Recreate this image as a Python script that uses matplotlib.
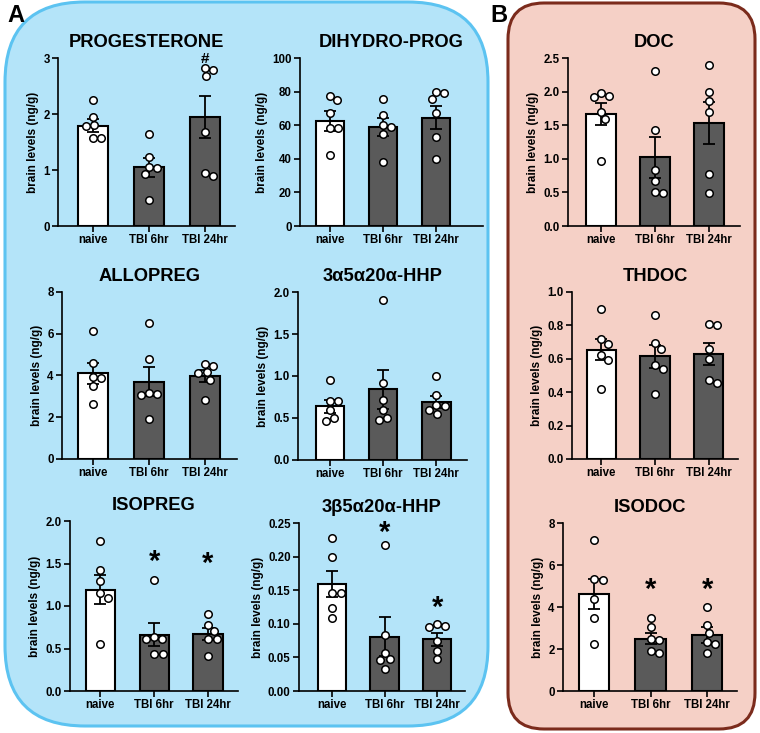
import numpy as np
import matplotlib
matplotlib.use("Agg")
import matplotlib.pyplot as plt
from matplotlib.patches import FancyBboxPatch
from matplotlib.transforms import IdentityTransform

plt.rcParams['font.family'] = ['Liberation Sans', 'DejaVu Sans']
plt.rcParams['font.weight'] = 'bold'
plt.rcParams['axes.labelweight'] = 'bold'

# ---------------- data ----------------
groups = ["naive", "TBI 6hr", "TBI 24hr"]
ylabel = "brain levels (ng/g)"

prog_title = "PROGESTERONE"
prog_mean = [1.79, 1.05, 1.95]
prog_sem = [0.12, 0.17, 0.38]
prog_pts = [[2.25, 1.95, 1.80, 1.78, 1.57, 1.57],
            [1.64, 1.24, 1.06, 1.03, 0.93, 0.46],
            [2.82, 2.79, 2.67, 1.67, 0.95, 0.89]]
prog_ticks = [0, 1, 2, 3]
prog_sig = ["", "", "#"]
prog_sig_y = [None, None, 2.99]

dhp_title = "DIHYDRO-PROG"
dhp_mean = [62.7, 58.8, 64.5]
dhp_sem = [6.0, 5.4, 7.0]
dhp_pts = [[77.5, 75.0, 67.0, 58.5, 58.5, 42.2],
           [75.5, 66.0, 60.0, 59.0, 54.6, 37.8],
           [80.0, 79.0, 75.7, 67.0, 52.8, 39.6]]
dhp_ticks = [0, 20, 40, 60, 80, 100]
dhp_sig = ["", "", ""]
dhp_sig_y = [None, None, None]

doc_title = "DOC"
doc_mean = [1.67, 1.02, 1.53]
doc_sem = [0.16, 0.30, 0.31]
doc_pts = [[1.98, 1.93, 1.92, 1.70, 1.59, 0.96],
           [2.30, 1.43, 0.83, 0.67, 0.50, 0.49],
           [2.39, 1.99, 1.86, 1.70, 0.77, 0.49]]
doc_ticks = [0.0, 0.5, 1.0, 1.5, 2.0, 2.5]
doc_sig = ["", "", ""]
doc_sig_y = [None, None, None]

allo_title = "ALLOPREG"
allo_mean = [4.10, 3.70, 3.98]
allo_sem = [0.50, 0.70, 0.27]
allo_pts = [[6.14, 4.60, 3.94, 3.90, 3.49, 2.63],
            [6.52, 4.77, 3.14, 3.09, 3.06, 1.91],
            [4.57, 4.46, 4.17, 4.10, 3.80, 2.82]]
allo_ticks = [0, 2, 4, 6, 8]
allo_sig = ["", "", ""]
allo_sig_y = [None, None, None]

hhp_a_title = "3α5α20α-HHP"
hhp_a_mean = [0.64, 0.84, 0.69]
hhp_a_sem = [0.08, 0.23, 0.07]
hhp_a_pts = [[0.95, 0.70, 0.70, 0.59, 0.50, 0.46],
             [1.90, 0.92, 0.71, 0.59, 0.50, 0.48],
             [1.00, 0.77, 0.65, 0.64, 0.59, 0.55]]
hhp_a_ticks = [0.0, 0.5, 1.0, 1.5, 2.0]
hhp_a_sig = ["", "", ""]
hhp_a_sig_y = [None, None, None]

thdoc_title = "THDOC"
thdoc_mean = [0.655, 0.615, 0.63]
thdoc_sem = [0.065, 0.07, 0.065]
thdoc_pts = [[0.90, 0.72, 0.69, 0.62, 0.59, 0.42],
             [0.865, 0.695, 0.66, 0.56, 0.54, 0.39],
             [0.81, 0.80, 0.66, 0.60, 0.476, 0.456]]
thdoc_ticks = [0.0, 0.2, 0.4, 0.6, 0.8, 1.0]
thdoc_sig = ["", "", ""]
thdoc_sig_y = [None, None, None]

iso_title = "ISOPREG"
iso_mean = [1.19, 0.66, 0.67]
iso_sem = [0.17, 0.135, 0.075]
iso_pts = [[1.77, 1.42, 1.29, 1.15, 1.10, 0.55],
           [1.31, 0.64, 0.61, 0.61, 0.43, 0.43],
           [0.91, 0.78, 0.71, 0.61, 0.61, 0.41]]
iso_ticks = [0.0, 0.5, 1.0, 1.5, 2.0]
iso_sig = ["", "*", "*"]
iso_sig_y = [None, 1.52, 1.50]

hhp_b_title = "3β5α20α-HHP"
hhp_b_mean = [0.159, 0.081, 0.077]
hhp_b_sem = [0.019, 0.029, 0.010]
hhp_b_pts = [[0.2275, 0.200, 0.146, 0.146, 0.124, 0.108],
             [0.218, 0.084, 0.057, 0.047, 0.046, 0.032],
             [0.100, 0.096, 0.095, 0.074, 0.060, 0.047]]
hhp_b_ticks = [0.00, 0.05, 0.10, 0.15, 0.20, 0.25]
hhp_b_sig = ["", "*", "*"]
hhp_b_sig_y = [None, 0.235, 0.123]

isodoc_title = "ISODOC"
isodoc_mean = [4.62, 2.50, 2.66]
isodoc_sem = [0.70, 0.27, 0.37]
isodoc_pts = [[7.20, 5.34, 5.29, 4.38, 3.49, 2.22],
              [3.49, 3.06, 2.50, 2.42, 1.90, 1.83],
              [3.98, 3.16, 2.77, 2.34, 2.22, 1.82]]
isodoc_ticks = [0, 2, 4, 6, 8]
isodoc_sig = ["", "*", "*"]
isodoc_sig_y = [None, 4.8, 4.8]

# ---------------- layout ----------------
W, H = 760, 733
fig = plt.figure(figsize=(W / 100, H / 100), dpi=100)

# background boxes (pixel coords, origin bottom-left)
blue = FancyBboxPatch((5, 7), 483, 724, boxstyle="round,pad=0,rounding_size=80",
                      transform=IdentityTransform(), facecolor="#b4e4f9",
                      edgecolor="#5cc3f1", linewidth=2.2, zorder=-10)
pink = FancyBboxPatch((508, 4), 247, 726, boxstyle="round,pad=0,rounding_size=36",
                      transform=IdentityTransform(), facecolor="#f5d0c6",
                      edgecolor="#7b2b1c", linewidth=2.2, zorder=-10)
fig.add_artist(blue)
fig.add_artist(pink)

fig.text(7 / W, 1 - 16 / H, "A", fontsize=17, fontweight="bold", va="center", ha="left")
fig.text(490 / W, 1 - 15 / H, "B", fontsize=17, fontweight="bold", va="center", ha="left")

# (x0, x1, ytop, ybottom) in pixels, xlim
panels = [
    ((58, 235, 58, 226), (-0.625, 2.536), prog_title, prog_mean, prog_sem, prog_pts, prog_ticks, "%d", prog_sig, prog_sig_y),
    ((300, 483, 58, 226), (-0.566, 2.887), dhp_title, dhp_mean, dhp_sem, dhp_pts, dhp_ticks, "%d", dhp_sig, dhp_sig_y),
    ((568, 740, 58, 226), (-0.611, 2.574), doc_title, doc_mean, doc_sem, doc_pts, doc_ticks, "%.1f", doc_sig, doc_sig_y),
    ((62, 237, 292, 459), (-0.55, 2.57), allo_title, allo_mean, allo_sem, allo_pts, allo_ticks, "%d", allo_sig, allo_sig_y),
    ((298, 467, 292, 460), (-0.60, 2.58), hhp_a_title, hhp_a_mean, hhp_a_sem, hhp_a_pts, hhp_a_ticks, "%.1f", hhp_a_sig, hhp_a_sig_y),
    ((572, 738, 292, 459), (-0.54, 2.54), thdoc_title, thdoc_mean, thdoc_sem, thdoc_pts, thdoc_ticks, "%.1f", thdoc_sig, thdoc_sig_y),
    ((70, 238, 521, 691), (-0.56, 2.556), iso_title, iso_mean, iso_sem, iso_pts, iso_ticks, "%.1f", iso_sig, iso_sig_y),
    ((299, 465, 523, 691), (-0.63, 2.53), hhp_b_title, hhp_b_mean, hhp_b_sem, hhp_b_pts, hhp_b_ticks, "%.2f", hhp_b_sig, hhp_b_sig_y),
    ((563, 737, 523, 691), (-0.55, 2.53), isodoc_title, isodoc_mean, isodoc_sem, isodoc_pts, isodoc_ticks, "%d", isodoc_sig, isodoc_sig_y),
]

bar_colors = ["white", "#5a5a5a", "#5a5a5a"]
D = 8.5  # marker spacing in pixels


def swarm(ax, xc, ys):
    disp = ax.transData.transform(np.column_stack([np.full(len(ys), xc), ys]))
    x_px_per_unit = (ax.transData.transform((1, 0))[0] - ax.transData.transform((0, 0))[0])
    placed = []
    offs = np.zeros(len(ys))
    for i in range(len(ys)):
        yp = disp[i, 1]
        cands = [0.0]
        intervals = []
        for (px, py) in placed:
            dy = abs(py - yp)
            if dy < D:
                dx = np.sqrt(D * D - dy * dy)
                intervals.append((px - dx, px + dx))
                cands += [px + dx, px - dx]
        valid = [c for c in cands if all(not (a + 1e-6 < c < b - 1e-6) for a, b in intervals)]
        best = min(valid, key=lambda c: (abs(round(c, 4)), -c))
        placed.append((best, yp))
        offs[i] = best / x_px_per_unit
    return offs


for (x0, x1, yt, yb), xlim, title, mean, sem, pts, ticks, fmt, sig, sig_y in panels:
    ax = fig.add_axes([x0 / W, 1 - yb / H, (x1 - x0) / W, (yb - yt) / H])
    ax.set_facecolor("none")
    ax.set_xlim(*xlim)
    ax.set_ylim(ticks[0], ticks[-1])
    xs = np.arange(len(groups))
    ax.bar(xs, mean, width=0.54, color=bar_colors, edgecolor="black", linewidth=1.5, zorder=2)
    ax.errorbar(xs, mean, yerr=sem, fmt="none", ecolor="black", elinewidth=1.3,
                capsize=4.5, capthick=1.3, zorder=3)
    for i in range(len(groups)):
        ys = np.array(pts[i], dtype=float)
        offs = swarm(ax, xs[i], ys)
        ax.plot(xs[i] + offs, ys, "o", ms=5.4, mfc="white", mec="black", mew=1.1,
                zorder=4, clip_on=False)
        if sig[i]:
            fs = 11 if sig[i] == "#" else 21
            ax.text(xs[i], sig_y[i], sig[i], ha="center", va="center", fontsize=fs,
                    fontweight="bold", clip_on=False, zorder=5)
    ax.set_yticks(ticks)
    ax.set_yticklabels([fmt % t for t in ticks])
    ax.set_xticks(xs)
    ax.set_xticklabels(groups)
    for s in ["top", "right"]:
        ax.spines[s].set_visible(False)
    for s in ["left", "bottom"]:
        ax.spines[s].set_linewidth(1.2)
    ax.tick_params(axis="both", labelsize=8.3, width=1.2, length=4, pad=2)
    for lab in ax.get_xticklabels() + ax.get_yticklabels():
        lab.set_fontweight("bold")
    ax.set_ylabel(ylabel, fontsize=8.5, fontweight="bold", labelpad=3)
    ax.set_title(title, fontsize=13.2, fontweight="bold", pad=8)

fig.savefig("out.png", dpi=100)
